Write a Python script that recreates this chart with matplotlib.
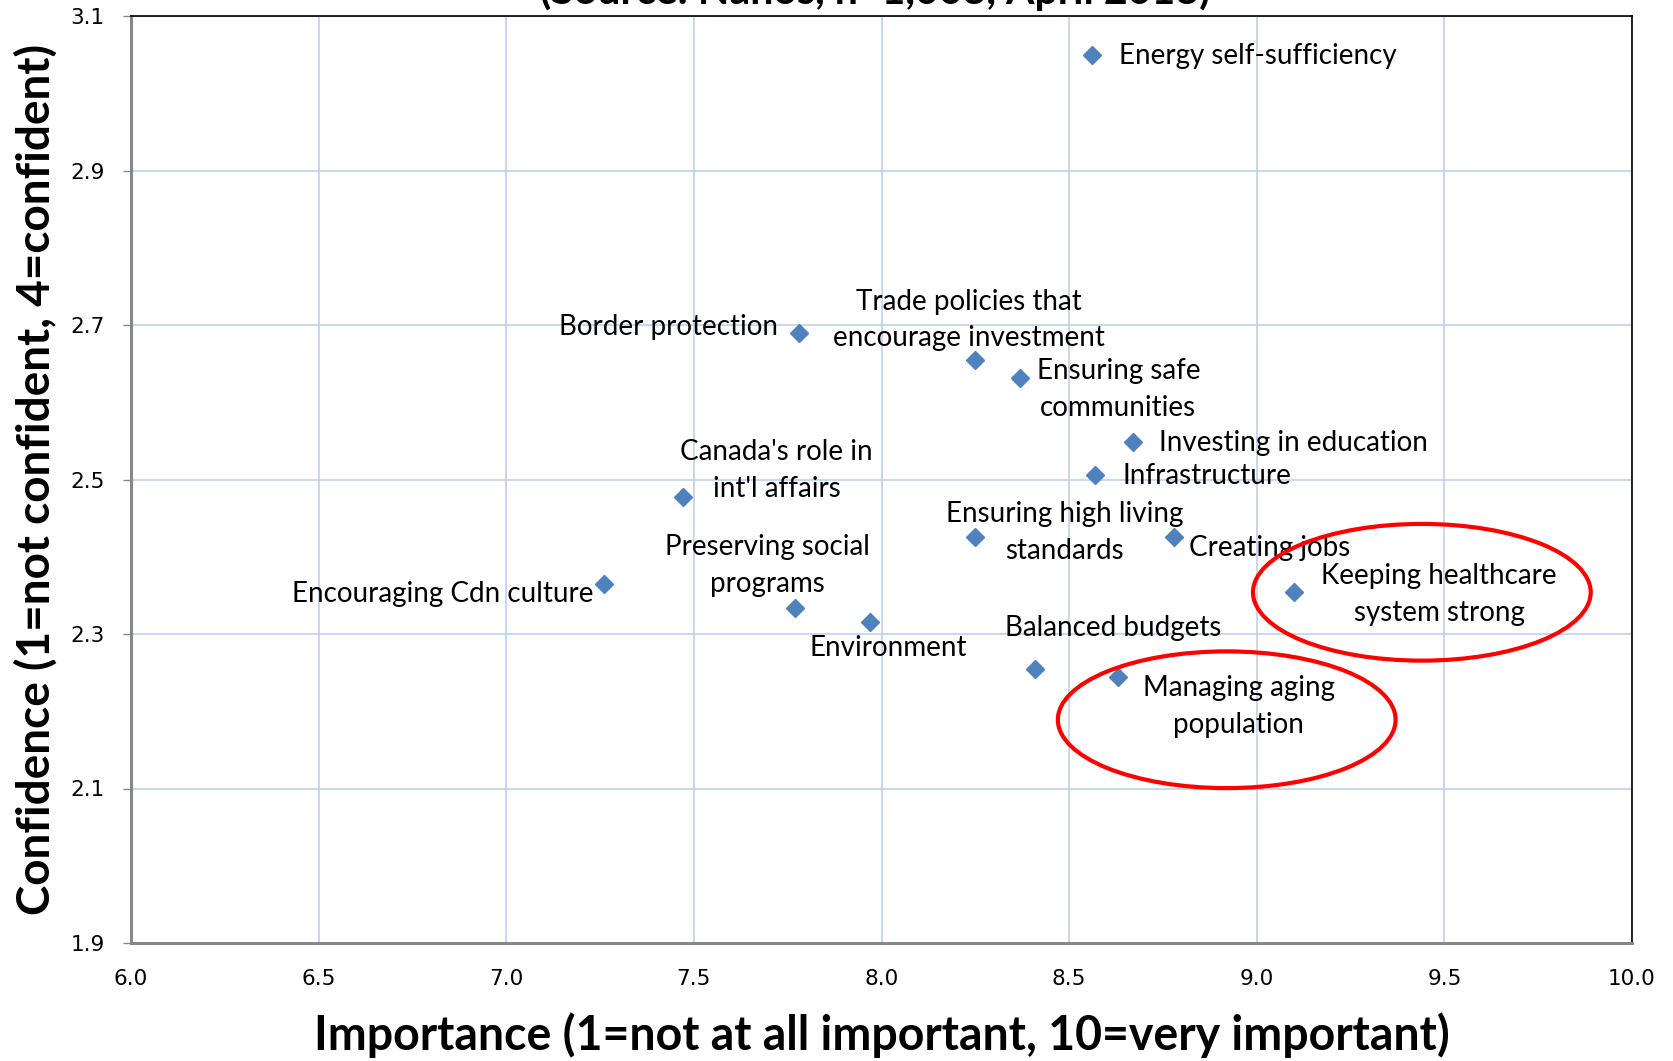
import matplotlib
matplotlib.use("Agg")
import matplotlib.pyplot as plt
from matplotlib.patches import Ellipse

# ---- data ----
issues = ["Energy self-sufficiency", "Border protection",
          "Trade policies that\nencourage investment", "Ensuring safe\ncommunities",
          "Investing in education", "Infrastructure", "Canada's role in\nint'l affairs",
          "Ensuring high living\nstandards", "Creating jobs", "Encouraging Cdn culture",
          "Keeping healthcare\nsystem strong", "Preserving social\nprograms", "Environment",
          "Balanced budgets", "Managing aging\npopulation"]
importance = [8.56, 7.78, 8.25, 8.37, 8.67, 8.57, 7.47, 8.25, 8.78, 7.26, 9.10, 7.77, 7.97, 8.41, 8.63]
confidence = [3.05, 2.69, 2.655, 2.632, 2.548, 2.506, 2.477, 2.425, 2.426, 2.365, 2.354, 2.334, 2.316, 2.255, 2.244]
x_ticks = [6.0, 6.5, 7.0, 7.5, 8.0, 8.5, 9.0, 9.5, 10.0]
y_ticks = [1.9, 2.1, 2.3, 2.5, 2.7, 2.9, 3.1]
title = "(Source: Nanos, n=1,003, April 2013)"
xlabel = "Importance (1=not at all important, 10=very important)"
ylabel = "Confidence (1=not confident, 4=confident)"
highlighted = ["Keeping healthcare\nsystem strong", "Managing aging\npopulation"]

# label placement (pixel offsets, alignment)
label_style = {
    "Energy self-sufficiency": (27, -1, "left"),
    "Border protection": (-21, 6, "right"),
    "Trade policies that\nencourage investment": (-6, 40, "center"),
    "Ensuring safe\ncommunities": (98, -12, "center"),
    "Investing in education": (26, -1, "left"),
    "Infrastructure": (27, -1, "left"),
    "Canada's role in\nint'l affairs": (94, 27, "center"),
    "Ensuring high living\nstandards": (89, 5, "center"),
    "Creating jobs": (15, -11, "left"),
    "Encouraging Cdn culture": (-10, -10, "right"),
    "Keeping healthcare\nsystem strong": (145, -2, "center"),
    "Preserving social\nprograms": (-28, 42, "center"),
    "Environment": (18, -26, "center"),
    "Balanced budgets": (78, 41, "center"),
    "Managing aging\npopulation": (121, -29, "center"),
}
# ellipse geometry relative to the highlighted point (data units)
ellipse_geom = {
    "Keeping healthcare\nsystem strong": (0.34, 0.0, 0.90, 0.177),
    "Managing aging\npopulation": (0.29, -0.055, 0.90, 0.177),
}

label_font = "Lato"

fig = plt.figure(figsize=(16.73, 10.61), dpi=100)
ax = fig.add_axes([131/1673, 1-943/1061, (1632-131)/1673, (943-16)/1061])

ax.set_xlim(6.0, 10.0)
ax.set_ylim(1.9, 3.1)
ax.set_xticks(x_ticks)
ax.set_yticks(y_ticks)
ax.set_xticklabels([f"{v:.1f}" for v in x_ticks])
ax.set_yticklabels([f"{v:.1f}" for v in y_ticks])
ax.grid(True, color="#B9CDE5", linewidth=1.1)
ax.set_axisbelow(True)

for s in ["left", "bottom"]:
    ax.spines[s].set_color("#878787")
    ax.spines[s].set_linewidth(2.2)
for s in ["top", "right"]:
    ax.spines[s].set_color("black")
    ax.spines[s].set_linewidth(1.2)

ax.tick_params(axis="y", length=6, width=1, color="#878787", pad=13, labelsize=15.5)
ax.tick_params(axis="x", length=0, pad=19, labelsize=15.5)

ax.plot(importance, confidence, linestyle="none", marker="D", markersize=9.5,
        color="#4F81BD", zorder=3)

for name, x, y in zip(issues, importance, confidence):
    dx, dy, ha = label_style[name]
    ax.annotate(name, (x, y), xytext=(dx, dy), textcoords="offset pixels",
                ha=ha, va="center", fontsize=20, family=label_font,
                linespacing=1.5, zorder=4)

for name, x, y in zip(issues, importance, confidence):
    if name in highlighted:
        ox, oy, w, h = ellipse_geom[name]
        ax.add_patch(Ellipse((x + ox, y + oy), w, h, fill=False,
                             edgecolor="#FF0000", linewidth=3, zorder=5))

ax.set_xlabel(xlabel, fontsize=33.5, fontweight="bold", family=label_font)
ax.xaxis.set_label_coords(0.5, -0.099)
ax.xaxis.label.set_va("center")
ax.set_ylabel(ylabel, fontsize=33, fontweight="bold", family=label_font)
ax.yaxis.set_label_coords(-0.0635, 0.5)
ax.yaxis.label.set_va("center")

fig.text(0.523, 1 - 4/1061, title, ha="center", va="baseline",
         fontsize=29.5, fontweight="bold", family=label_font)

fig.savefig("out.png", dpi=100)
